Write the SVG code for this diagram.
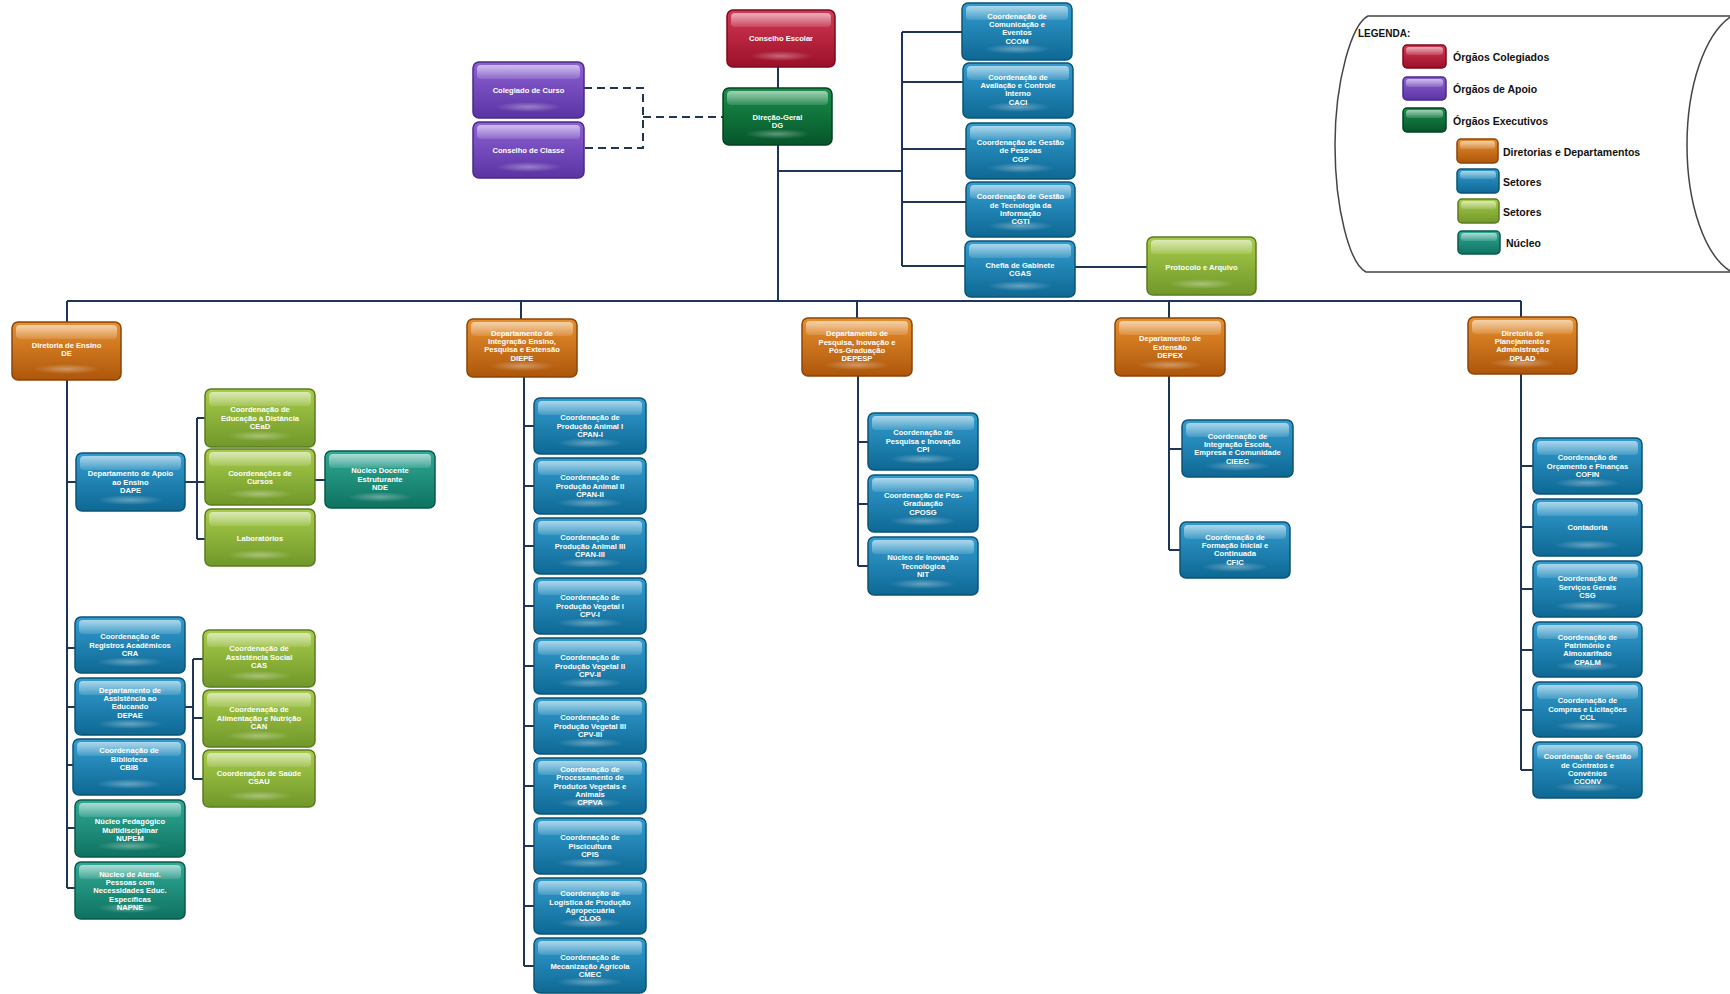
<svg xmlns="http://www.w3.org/2000/svg" width="1730" height="994" viewBox="0 0 1730 994">
<defs>
<linearGradient id="gRed" x1="0" y1="0" x2="0" y2="1"><stop offset="0" stop-color="#d23a55"/><stop offset="1" stop-color="#9c0f28"/></linearGradient>
<linearGradient id="gPurple" x1="0" y1="0" x2="0" y2="1"><stop offset="0" stop-color="#8d62d4"/><stop offset="1" stop-color="#5b33a3"/></linearGradient>
<linearGradient id="gDkGreen" x1="0" y1="0" x2="0" y2="1"><stop offset="0" stop-color="#1a8f4b"/><stop offset="1" stop-color="#05552a"/></linearGradient>
<linearGradient id="gOrange" x1="0" y1="0" x2="0" y2="1"><stop offset="0" stop-color="#e8902e"/><stop offset="1" stop-color="#ad560b"/></linearGradient>
<linearGradient id="gBlue" x1="0" y1="0" x2="0" y2="1"><stop offset="0" stop-color="#339dd0"/><stop offset="1" stop-color="#0e6894"/></linearGradient>
<linearGradient id="gLGreen" x1="0" y1="0" x2="0" y2="1"><stop offset="0" stop-color="#a8cc4a"/><stop offset="1" stop-color="#70982a"/></linearGradient>
<linearGradient id="gTeal" x1="0" y1="0" x2="0" y2="1"><stop offset="0" stop-color="#30aa96"/><stop offset="1" stop-color="#0e7260"/></linearGradient>
<linearGradient id="gHl" x1="0" y1="0" x2="0" y2="1"><stop offset="0" stop-color="#fff" stop-opacity="0.6"/><stop offset="1" stop-color="#fff" stop-opacity="0.12"/></linearGradient>
<radialGradient id="gGlow"><stop offset="0" stop-color="#fff" stop-opacity="0.35"/><stop offset="1" stop-color="#fff" stop-opacity="0"/></radialGradient>
</defs>
<style>
.b{stroke-width:1.5}
.node .b{rx:6px}
.h{fill:url(#gHl)}
.g{fill:url(#gGlow)}
.red .b{fill:url(#gRed);stroke:#7a0a1e}
.purple .b{fill:url(#gPurple);stroke:#4a2a85}
.dkgreen .b{fill:url(#gDkGreen);stroke:#044220}
.orange .b{fill:url(#gOrange);stroke:#8a4408}
.blue .b{fill:url(#gBlue);stroke:#0c5376}
.lgreen .b{fill:url(#gLGreen);stroke:#5b7b1f}
.teal .b{fill:url(#gTeal);stroke:#0a5a4c}
.node text{font-family:"Liberation Sans",Arial,sans-serif;font-weight:bold;font-size:7.6px;fill:#fff;text-anchor:middle}
#connectors path{fill:none;stroke:#1d3557;stroke-width:2}
#connectors path.dash{stroke-dasharray:8 5}
#legend text{font-family:"Liberation Sans",Arial,sans-serif;font-weight:bold;fill:#111}
#legend .frame{fill:#fff;stroke:#444;stroke-width:1.5}
#legend .sw{stroke-width:1}
</style>
<rect width="1730" height="994" fill="#fff"/>

<g id="legend">
<path class="frame" d="M1730,16 H1368 C1352,24 1335,80 1335,145 C1335,210 1350,264 1366,272 H1730"/>
<path class="frame" style="fill:none" d="M1730,17 C1705,35 1687,85 1687,145 C1687,205 1705,255 1730,271"/>
<text x="1358" y="37" font-size="10">LEGENDA:</text>
<g class="red"><rect class="b" x="1403" y="45" width="43" height="23" rx="4"/><rect class="h" x="1406" y="47" width="37" height="8" rx="3"/></g>
<text x="1453" y="61" font-size="10.5">Órgãos Colegiados</text>
<g class="purple"><rect class="b" x="1403" y="77" width="43" height="23" rx="4"/><rect class="h" x="1406" y="79" width="37" height="8" rx="3"/></g>
<text x="1453" y="93" font-size="10.5">Órgãos de Apoio</text>
<g class="dkgreen"><rect class="b" x="1403" y="108" width="43" height="24" rx="4"/><rect class="h" x="1406" y="110" width="37" height="8" rx="3"/></g>
<text x="1453" y="125" font-size="10.5">Órgãos Executivos</text>
<g class="orange"><rect class="b" x="1457" y="139" width="41" height="24" rx="4"/><rect class="h" x="1460" y="141" width="35" height="8" rx="3"/></g>
<text x="1503" y="156" font-size="10.5">Diretorias e Departamentos</text>
<g class="blue"><rect class="b" x="1457" y="169" width="42" height="24" rx="4"/><rect class="h" x="1460" y="171" width="36" height="8" rx="3"/></g>
<text x="1503" y="186" font-size="10.5">Setores</text>
<g class="lgreen"><rect class="b" x="1458" y="199" width="41" height="24" rx="4"/><rect class="h" x="1461" y="201" width="35" height="8" rx="3"/></g>
<text x="1503" y="216" font-size="10.5">Setores</text>
<g class="teal"><rect class="b" x="1458" y="231" width="42" height="23" rx="4"/><rect class="h" x="1461" y="233" width="36" height="8" rx="3"/></g>
<text x="1506" y="247" font-size="10.5">Núcleo</text>
</g>

<g id="connectors">
<path d="M778 67V88 M778 145V301 M778 171H902 M902 32V266 M902 32H962 M902 82H963 M902 149H966 M902 202H966 M902 266H965 M1075 267H1147"/>
<path d="M67 301H1521 M67 301V322 M521 301V319 M857 301V318 M1169 301V318 M1521 301V317"/>
<path d="M67 380V888 M67 482H76 M67 648H75 M67 707H75 M67 765H73 M67 828H75 M67 888H75"/>
<path d="M185 482H197 M197 418V539 M197 418H205 M197 482H205 M197 539H205 M315 480H325"/>
<path d="M185 707H193 M193 659V779 M193 659H203 M193 718H203 M193 779H203"/>
<path d="M524 377V966 M524 426H534 M524 486H534 M524 546H534 M524 606H534 M524 666H534 M524 726H534 M524 786H534 M524 846H534 M524 906H534 M524 966H534"/>
<path d="M858 376V566 M858 442H868 M858 504H868 M858 566H868"/>
<path d="M1169 376V550 M1169 449H1182 M1169 550H1180"/>
<path d="M1521 374V770 M1521 466H1533 M1521 527H1533 M1521 589H1533 M1521 650H1533 M1521 710H1533 M1521 770H1533"/>
<path class="dash" d="M584 88H643V148H584 M643 117H723"/>
</g>

<g id="n-conselho-escolar" class="node red"><rect class="b" x="727" y="10" width="108" height="57"/><rect class="h" x="731" y="13" width="100" height="14" rx="4"/><ellipse class="g" cx="781" cy="56" rx="32" ry="5"/><text x="781" y="41.2">Conselho Escolar</text></g>
<g id="n-dg" class="node dkgreen"><rect class="b" x="723" y="88" width="109" height="57"/><rect class="h" x="727" y="91" width="101" height="14" rx="4"/><ellipse class="g" cx="777.5" cy="134" rx="33" ry="5"/><text x="777.5" y="119.7">Direção-Geral<tspan x="777.5" dy="8.3">DG</tspan></text></g>
<g id="n-colegiado-curso" class="node purple"><rect class="b" x="473" y="62" width="111" height="56"/><rect class="h" x="477" y="65" width="103" height="14" rx="4"/><ellipse class="g" cx="528.5" cy="107" rx="33" ry="5"/><text x="528.5" y="92.7">Colegiado de Curso</text></g>
<g id="n-conselho-classe" class="node purple"><rect class="b" x="473" y="122" width="111" height="56"/><rect class="h" x="477" y="125" width="103" height="14" rx="4"/><ellipse class="g" cx="528.5" cy="167" rx="33" ry="5"/><text x="528.5" y="152.7">Conselho de Classe</text></g>

<g id="n-ccom" class="node blue"><rect class="b" x="962" y="3" width="110" height="57"/><rect class="h" x="966" y="6" width="102" height="14" rx="4"/><ellipse class="g" cx="1017" cy="49" rx="33" ry="5"/><text x="1017" y="18.75">Coordenação de<tspan x="1017" dy="8.3">Comunicação e</tspan><tspan x="1017" dy="8.3">Eventos</tspan><tspan x="1017" dy="8.3">CCOM</tspan></text></g>
<g id="n-caci" class="node blue"><rect class="b" x="963" y="63" width="110" height="55"/><rect class="h" x="967" y="66" width="102" height="14" rx="4"/><ellipse class="g" cx="1018" cy="107" rx="33" ry="5"/><text x="1018" y="79.75">Coordenação de<tspan x="1018" dy="8.3">Avaliação e Controle</tspan><tspan x="1018" dy="8.3">Interno</tspan><tspan x="1018" dy="8.3">CACI</tspan></text></g>
<g id="n-cgp" class="node blue"><rect class="b" x="966" y="123" width="109" height="56"/><rect class="h" x="970" y="126" width="101" height="14" rx="4"/><ellipse class="g" cx="1020.5" cy="168" rx="33" ry="5"/><text x="1020.5" y="145.1">Coordenação de Gestão<tspan x="1020.5" dy="8.3">de Pessoas</tspan><tspan x="1020.5" dy="8.3">CGP</tspan></text></g>
<g id="n-cgti" class="node blue"><rect class="b" x="966" y="182" width="109" height="55"/><rect class="h" x="970" y="185" width="101" height="14" rx="4"/><ellipse class="g" cx="1020.5" cy="226" rx="33" ry="5"/><text x="1020.5" y="199.25">Coordenação de Gestão<tspan x="1020.5" dy="8.3">de Tecnologia da</tspan><tspan x="1020.5" dy="8.3">Informação</tspan><tspan x="1020.5" dy="8.3">CGTI</tspan></text></g>
<g id="n-cgas" class="node blue"><rect class="b" x="965" y="241" width="110" height="56"/><rect class="h" x="969" y="244" width="102" height="14" rx="4"/><ellipse class="g" cx="1020" cy="286" rx="33" ry="5"/><text x="1020" y="267.55">Chefia de Gabinete<tspan x="1020" dy="8.3">CGAS</tspan></text></g>
<g id="n-protocolo" class="node lgreen"><rect class="b" x="1147" y="237" width="109" height="58"/><rect class="h" x="1151" y="240" width="101" height="14" rx="4"/><ellipse class="g" cx="1201.5" cy="284" rx="33" ry="5"/><text x="1201.5" y="269.7">Protocolo e Arquivo</text></g>

<g id="n-de" class="node orange"><rect class="b" x="12" y="322" width="109" height="58"/><rect class="h" x="16" y="325" width="101" height="14" rx="4"/><ellipse class="g" cx="66.5" cy="369" rx="33" ry="5"/><text x="66.5" y="347.55">Diretoria de Ensino<tspan x="66.5" dy="8.3">DE</tspan></text></g>
<g id="n-diepe" class="node orange"><rect class="b" x="467" y="319" width="110" height="58"/><rect class="h" x="471" y="322" width="102" height="14" rx="4"/><ellipse class="g" cx="522" cy="366" rx="33" ry="5"/><text x="522" y="335.75">Departamento de<tspan x="522" dy="8.3">Integração Ensino,</tspan><tspan x="522" dy="8.3">Pesquisa e Extensão</tspan><tspan x="522" dy="8.3">DIEPE</tspan></text></g>
<g id="n-depesp" class="node orange"><rect class="b" x="802" y="318" width="110" height="58"/><rect class="h" x="806" y="321" width="102" height="14" rx="4"/><ellipse class="g" cx="857" cy="365" rx="33" ry="5"/><text x="857" y="336.25">Departamento de<tspan x="857" dy="8.3">Pesquisa, Inovação e</tspan><tspan x="857" dy="8.3">Pós-Graduação</tspan><tspan x="857" dy="8.3">DEPESP</tspan></text></g>
<g id="n-depex" class="node orange"><rect class="b" x="1115" y="318" width="110" height="58"/><rect class="h" x="1119" y="321" width="102" height="14" rx="4"/><ellipse class="g" cx="1170" cy="365" rx="33" ry="5"/><text x="1170" y="341.4">Departamento de<tspan x="1170" dy="8.3">Extensão</tspan><tspan x="1170" dy="8.3">DEPEX</tspan></text></g>
<g id="n-dplad" class="node orange"><rect class="b" x="1468" y="317" width="109" height="57"/><rect class="h" x="1472" y="320" width="101" height="14" rx="4"/><ellipse class="g" cx="1522.5" cy="363" rx="33" ry="5"/><text x="1522.5" y="335.75">Diretoria de<tspan x="1522.5" dy="8.3">Planejamento e</tspan><tspan x="1522.5" dy="8.3">Administração</tspan><tspan x="1522.5" dy="8.3">DPLAD</tspan></text></g>

<g id="n-dape" class="node blue"><rect class="b" x="76" y="453" width="109" height="58"/><rect class="h" x="80" y="456" width="101" height="14" rx="4"/><ellipse class="g" cx="130.5" cy="500" rx="33" ry="5"/><text x="130.5" y="476.4">Departamento de Apoio<tspan x="130.5" dy="8.3">ao Ensino</tspan><tspan x="130.5" dy="8.3">DAPE</tspan></text></g>
<g id="n-cead" class="node lgreen"><rect class="b" x="205" y="389" width="110" height="58"/><rect class="h" x="209" y="392" width="102" height="14" rx="4"/><ellipse class="g" cx="260" cy="436" rx="33" ry="5"/><text x="260" y="412.4">Coordenação de<tspan x="260" dy="8.3">Educação à Distância</tspan><tspan x="260" dy="8.3">CEaD</tspan></text></g>
<g id="n-cursos" class="node lgreen"><rect class="b" x="205" y="449" width="110" height="56"/><rect class="h" x="209" y="452" width="102" height="14" rx="4"/><ellipse class="g" cx="260" cy="494" rx="33" ry="5"/><text x="260" y="476.05">Coordenações de<tspan x="260" dy="8.3">Cursos</tspan></text></g>
<g id="n-laboratorios" class="node lgreen"><rect class="b" x="205" y="509" width="110" height="57"/><rect class="h" x="209" y="512" width="102" height="14" rx="4"/><ellipse class="g" cx="260" cy="555" rx="33" ry="5"/><text x="260" y="540.7">Laboratórios</text></g>
<g id="n-nde" class="node teal"><rect class="b" x="325" y="451" width="110" height="57"/><rect class="h" x="329" y="454" width="102" height="14" rx="4"/><ellipse class="g" cx="380" cy="497" rx="33" ry="5"/><text x="380" y="473.4">Núcleo Docente<tspan x="380" dy="8.3">Estruturante</tspan><tspan x="380" dy="8.3">NDE</tspan></text></g>

<g id="n-cra" class="node blue"><rect class="b" x="75" y="617" width="110" height="56"/><rect class="h" x="79" y="620" width="102" height="14" rx="4"/><ellipse class="g" cx="130" cy="662" rx="33" ry="5"/><text x="130" y="639.4">Coordenação de<tspan x="130" dy="8.3">Registros Acadêmicos</tspan><tspan x="130" dy="8.3">CRA</tspan></text></g>
<g id="n-depae" class="node blue"><rect class="b" x="75" y="678" width="110" height="57"/><rect class="h" x="79" y="681" width="102" height="14" rx="4"/><ellipse class="g" cx="130" cy="724" rx="33" ry="5"/><text x="130" y="692.75">Departamento de<tspan x="130" dy="8.3">Assistência ao</tspan><tspan x="130" dy="8.3">Educando</tspan><tspan x="130" dy="8.3">DEPAE</tspan></text></g>
<g id="n-cbib" class="node blue"><rect class="b" x="73" y="739" width="112" height="56"/><rect class="h" x="77" y="742" width="104" height="14" rx="4"/><ellipse class="g" cx="129" cy="784" rx="33" ry="5"/><text x="129" y="753.4">Coordenação de<tspan x="129" dy="8.3">Biblioteca</tspan><tspan x="129" dy="8.3">CBIB</tspan></text></g>
<g id="n-nupem" class="node teal"><rect class="b" x="75" y="800" width="110" height="57"/><rect class="h" x="79" y="803" width="102" height="14" rx="4"/><ellipse class="g" cx="130" cy="846" rx="33" ry="5"/><text x="130" y="824.4">Núcleo Pedagógico<tspan x="130" dy="8.3">Multidisciplinar</tspan><tspan x="130" dy="8.3">NUPEM</tspan></text></g>
<g id="n-napne" class="node teal"><rect class="b" x="75" y="862" width="110" height="57"/><rect class="h" x="79" y="865" width="102" height="14" rx="4"/><ellipse class="g" cx="130" cy="908" rx="33" ry="5"/><text x="130" y="876.6">Núcleo de Atend.<tspan x="130" dy="8.3">Pessoas com</tspan><tspan x="130" dy="8.3">Necessidades Educ.</tspan><tspan x="130" dy="8.3">Específicas</tspan><tspan x="130" dy="8.3">NAPNE</tspan></text></g>
<g id="n-cas" class="node lgreen"><rect class="b" x="203" y="630" width="112" height="57"/><rect class="h" x="207" y="633" width="104" height="14" rx="4"/><ellipse class="g" cx="259" cy="676" rx="33" ry="5"/><text x="259" y="651.4">Coordenação de<tspan x="259" dy="8.3">Assistência Social</tspan><tspan x="259" dy="8.3">CAS</tspan></text></g>
<g id="n-can" class="node lgreen"><rect class="b" x="203" y="690" width="112" height="57"/><rect class="h" x="207" y="693" width="104" height="14" rx="4"/><ellipse class="g" cx="259" cy="736" rx="33" ry="5"/><text x="259" y="712.4">Coordenação de<tspan x="259" dy="8.3">Alimentação e Nutrição</tspan><tspan x="259" dy="8.3">CAN</tspan></text></g>
<g id="n-csau" class="node lgreen"><rect class="b" x="203" y="750" width="112" height="57"/><rect class="h" x="207" y="753" width="104" height="14" rx="4"/><ellipse class="g" cx="259" cy="796" rx="33" ry="5"/><text x="259" y="776.05">Coordenação de Saúde<tspan x="259" dy="8.3">CSAU</tspan></text></g>

<g id="n-cpan1" class="node blue"><rect class="b" x="534" y="398" width="112" height="56"/><rect class="h" x="538" y="401" width="104" height="14" rx="4"/><ellipse class="g" cx="590" cy="443" rx="33" ry="5"/><text x="590" y="420.4">Coordenação de<tspan x="590" dy="8.3">Produção Animal I</tspan><tspan x="590" dy="8.3">CPAN-I</tspan></text></g>
<g id="n-cpan2" class="node blue"><rect class="b" x="534" y="458" width="112" height="56"/><rect class="h" x="538" y="461" width="104" height="14" rx="4"/><ellipse class="g" cx="590" cy="503" rx="33" ry="5"/><text x="590" y="480.4">Coordenação de<tspan x="590" dy="8.3">Produção Animal II</tspan><tspan x="590" dy="8.3">CPAN-II</tspan></text></g>
<g id="n-cpan3" class="node blue"><rect class="b" x="534" y="518" width="112" height="56"/><rect class="h" x="538" y="521" width="104" height="14" rx="4"/><ellipse class="g" cx="590" cy="563" rx="33" ry="5"/><text x="590" y="540.4">Coordenação de<tspan x="590" dy="8.3">Produção Animal III</tspan><tspan x="590" dy="8.3">CPAN-III</tspan></text></g>
<g id="n-cpv1" class="node blue"><rect class="b" x="534" y="578" width="112" height="56"/><rect class="h" x="538" y="581" width="104" height="14" rx="4"/><ellipse class="g" cx="590" cy="623" rx="33" ry="5"/><text x="590" y="600.4">Coordenação de<tspan x="590" dy="8.3">Produção Vegetal I</tspan><tspan x="590" dy="8.3">CPV-I</tspan></text></g>
<g id="n-cpv2" class="node blue"><rect class="b" x="534" y="638" width="112" height="56"/><rect class="h" x="538" y="641" width="104" height="14" rx="4"/><ellipse class="g" cx="590" cy="683" rx="33" ry="5"/><text x="590" y="660.4">Coordenação de<tspan x="590" dy="8.3">Produção Vegetal II</tspan><tspan x="590" dy="8.3">CPV-II</tspan></text></g>
<g id="n-cpv3" class="node blue"><rect class="b" x="534" y="698" width="112" height="56"/><rect class="h" x="538" y="701" width="104" height="14" rx="4"/><ellipse class="g" cx="590" cy="743" rx="33" ry="5"/><text x="590" y="720.4">Coordenação de<tspan x="590" dy="8.3">Produção Vegetal III</tspan><tspan x="590" dy="8.3">CPV-III</tspan></text></g>
<g id="n-cppva" class="node blue"><rect class="b" x="534" y="758" width="112" height="56"/><rect class="h" x="538" y="761" width="104" height="14" rx="4"/><ellipse class="g" cx="590" cy="803" rx="33" ry="5"/><text x="590" y="772.1">Coordenação de<tspan x="590" dy="8.3">Processamento de</tspan><tspan x="590" dy="8.3">Produtos Vegetais e</tspan><tspan x="590" dy="8.3">Animais</tspan><tspan x="590" dy="8.3">CPPVA</tspan></text></g>
<g id="n-cpis" class="node blue"><rect class="b" x="534" y="818" width="112" height="56"/><rect class="h" x="538" y="821" width="104" height="14" rx="4"/><ellipse class="g" cx="590" cy="863" rx="33" ry="5"/><text x="590" y="840.4">Coordenação de<tspan x="590" dy="8.3">Piscicultura</tspan><tspan x="590" dy="8.3">CPIS</tspan></text></g>
<g id="n-clog" class="node blue"><rect class="b" x="534" y="878" width="112" height="56"/><rect class="h" x="538" y="881" width="104" height="14" rx="4"/><ellipse class="g" cx="590" cy="923" rx="33" ry="5"/><text x="590" y="896.25">Coordenação de<tspan x="590" dy="8.3">Logística de Produção</tspan><tspan x="590" dy="8.3">Agropecuária</tspan><tspan x="590" dy="8.3">CLOG</tspan></text></g>
<g id="n-cmec" class="node blue"><rect class="b" x="534" y="938" width="112" height="55"/><rect class="h" x="538" y="941" width="104" height="14" rx="4"/><ellipse class="g" cx="590" cy="982" rx="33" ry="5"/><text x="590" y="960.4">Coordenação de<tspan x="590" dy="8.3">Mecanização Agrícola</tspan><tspan x="590" dy="8.3">CMEC</tspan></text></g>

<g id="n-cpi" class="node blue"><rect class="b" x="868" y="413" width="110" height="57"/><rect class="h" x="872" y="416" width="102" height="14" rx="4"/><ellipse class="g" cx="923" cy="459" rx="33" ry="5"/><text x="923" y="435.4">Coordenação de<tspan x="923" dy="8.3">Pesquisa e Inovação</tspan><tspan x="923" dy="8.3">CPI</tspan></text></g>
<g id="n-cposg" class="node blue"><rect class="b" x="868" y="475" width="110" height="57"/><rect class="h" x="872" y="478" width="102" height="14" rx="4"/><ellipse class="g" cx="923" cy="521" rx="33" ry="5"/><text x="923" y="497.9">Coordenação de Pós-<tspan x="923" dy="8.3">Graduação</tspan><tspan x="923" dy="8.3">CPOSG</tspan></text></g>
<g id="n-nit" class="node blue"><rect class="b" x="868" y="537" width="110" height="58"/><rect class="h" x="872" y="540" width="102" height="14" rx="4"/><ellipse class="g" cx="923" cy="584" rx="33" ry="5"/><text x="923" y="560.4">Núcleo de Inovação<tspan x="923" dy="8.3">Tecnológica</tspan><tspan x="923" dy="8.3">NIT</tspan></text></g>

<g id="n-cieec" class="node blue"><rect class="b" x="1182" y="420" width="111" height="57"/><rect class="h" x="1186" y="423" width="103" height="14" rx="4"/><ellipse class="g" cx="1237.5" cy="466" rx="33" ry="5"/><text x="1237.5" y="438.75">Coordenação de<tspan x="1237.5" dy="8.3">Integração Escola,</tspan><tspan x="1237.5" dy="8.3">Empresa e Comunidade</tspan><tspan x="1237.5" dy="8.3">CIEEC</tspan></text></g>
<g id="n-cfic" class="node blue"><rect class="b" x="1180" y="522" width="110" height="56"/><rect class="h" x="1184" y="525" width="102" height="14" rx="4"/><ellipse class="g" cx="1235" cy="567" rx="33" ry="5"/><text x="1235" y="539.75">Coordenação de<tspan x="1235" dy="8.3">Formação Inicial e</tspan><tspan x="1235" dy="8.3">Continuada</tspan><tspan x="1235" dy="8.3">CFIC</tspan></text></g>

<g id="n-cofin" class="node blue"><rect class="b" x="1533" y="438" width="109" height="56"/><rect class="h" x="1537" y="441" width="101" height="14" rx="4"/><ellipse class="g" cx="1587.5" cy="483" rx="33" ry="5"/><text x="1587.5" y="460.4">Coordenação de<tspan x="1587.5" dy="8.3">Orçamento e Finanças</tspan><tspan x="1587.5" dy="8.3">COFIN</tspan></text></g>
<g id="n-contadoria" class="node blue"><rect class="b" x="1533" y="499" width="109" height="57"/><rect class="h" x="1537" y="502" width="101" height="14" rx="4"/><ellipse class="g" cx="1587.5" cy="545" rx="33" ry="5"/><text x="1587.5" y="529.7">Contadoria</text></g>
<g id="n-csg" class="node blue"><rect class="b" x="1533" y="561" width="109" height="56"/><rect class="h" x="1537" y="564" width="101" height="14" rx="4"/><ellipse class="g" cx="1587.5" cy="606" rx="33" ry="5"/><text x="1587.5" y="581.4">Coordenação de<tspan x="1587.5" dy="8.3">Serviços Gerais</tspan><tspan x="1587.5" dy="8.3">CSG</tspan></text></g>
<g id="n-cpalm" class="node blue"><rect class="b" x="1533" y="622" width="109" height="55"/><rect class="h" x="1537" y="625" width="101" height="14" rx="4"/><ellipse class="g" cx="1587.5" cy="666" rx="33" ry="5"/><text x="1587.5" y="639.75">Coordenação de<tspan x="1587.5" dy="8.3">Patrimônio e</tspan><tspan x="1587.5" dy="8.3">Almoxarifado</tspan><tspan x="1587.5" dy="8.3">CPALM</tspan></text></g>
<g id="n-ccl" class="node blue"><rect class="b" x="1533" y="682" width="109" height="55"/><rect class="h" x="1537" y="685" width="101" height="14" rx="4"/><ellipse class="g" cx="1587.5" cy="726" rx="33" ry="5"/><text x="1587.5" y="703.4">Coordenação de<tspan x="1587.5" dy="8.3">Compras e Licitações</tspan><tspan x="1587.5" dy="8.3">CCL</tspan></text></g>
<g id="n-cconv" class="node blue"><rect class="b" x="1533" y="742" width="109" height="56"/><rect class="h" x="1537" y="745" width="101" height="14" rx="4"/><ellipse class="g" cx="1587.5" cy="787" rx="33" ry="5"/><text x="1587.5" y="759.25">Coordenação de Gestão<tspan x="1587.5" dy="8.3">de Contratos e</tspan><tspan x="1587.5" dy="8.3">Convênios</tspan><tspan x="1587.5" dy="8.3">CCONV</tspan></text></g>
</svg>
